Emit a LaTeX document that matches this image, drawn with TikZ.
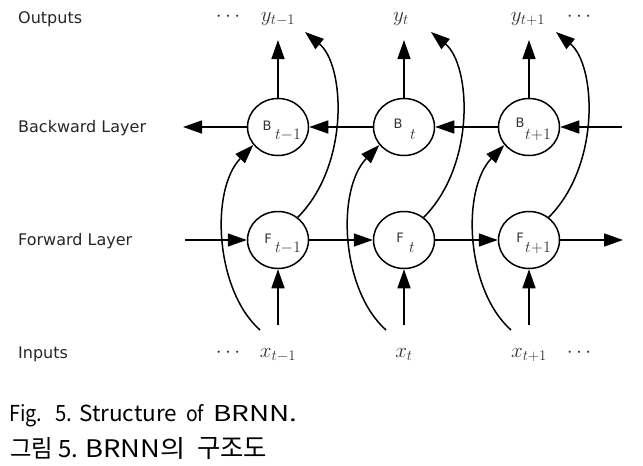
\RequirePackage{fix-cm}
\documentclass[tikz,border=0pt]{standalone}
\usepackage{fontspec}
\newfontfamily\dv{DejaVu Sans}
\newfontfamily\kr{Noto Sans CJK KR}
\usetikzlibrary{arrows.meta,shapes.geometric}
\newcommand{\cw}[4]{\makebox[#1][l]{\resizebox{#2}{#3}{#4}}}
\begin{document}
\begin{tikzpicture}[x=1pt,y=-1pt,
  arr/.style={line width=1.5pt,-{Triangle[length=19pt,width=13pt]}},
  unit/.style={ellipse,draw,line width=1.5pt,minimum width=61pt,minimum height=57pt,inner sep=0pt},
  lay/.style={font=\dv\fontsize{16}{19}\selectfont,anchor=base west,inner sep=0pt,text=black!85},
  ltr/.style={font=\dv\fontsize{13}{15}\selectfont,inner sep=0pt,text=black!80},
  sub/.style={font=\fontsize{16}{19}\selectfont,inner sep=0pt,text=black!80},
  io/.style={font=\fontsize{21}{25}\selectfont,anchor=base,inner sep=0pt,text=black!80},
  captxt/.style={font=\kr\fontsize{24}{29}\selectfont,anchor=base west,inner sep=0pt}]
\useasboundingbox (0,0) rectangle (643,466);

% layer labels
\node[lay] (lo) at (18,23) {Outputs};
\node[lay] (lb) at (18,132) {Backward Layer};
\node[lay] (lf) at (18,245) {Forward Layer};
\node[lay] (li) at (18,358) {Inputs};

% outputs / inputs
\node[io] (dy1) at (228,21) {$\cdots$};
\node[io] (y1) at (278,21) {$y_{t-1}$};
\node[io] (y2) at (401,21) {$y_{t}$};
\node[io] (y3) at (528,21) {$y_{t+1}$};
\node[io] (dy3) at (579,21) {$\cdots$};
\node[io] (dx1) at (228,357) {$\cdots$};
\node[io] (x1) at (278,357) {$x_{t-1}$};
\node[io] (x2) at (404,357) {$x_{t}$};
\node[io] (x3) at (529,357) {$x_{t+1}$};
\node[io] (dx3) at (579,357) {$\cdots$};

% units
\node[unit] (B1) at (278,127) {};
\node[unit] (B2) at (404,127) {};
\node[unit] (B3) at (529,127) {};
\node[unit] (F1) at (278,240) {};
\node[unit] (F2) at (404,240) {};
\node[unit] (F3) at (529,240) {};

\node[ltr] (tb1) at (267,126) {B};
\node[sub] (sb1) at (288,135) {$t{-}1$};
\node[ltr] (tb2) at (398,124) {B};
\node[sub] (sb2) at (413,135) {$t$};
\node[ltr] (tb3) at (520,123) {B};
\node[sub] (sb3) at (538,135) {$t{+}1$};
\node[ltr] (tf1) at (268,239) {F};
\node[sub] (sf1) at (288,248) {$t{-}1$};
\node[ltr] (tf2) at (400,238) {F};
\node[sub] (sf2) at (412,248) {$t$};
\node[ltr] (tf3) at (520,238) {F};
\node[sub] (sf3) at (538,248) {$t{+}1$};

% free ends
\coordinate (bR) at (622,127);
\coordinate (bL) at (183,127);
\coordinate (fL) at (185,240);
\coordinate (fR) at (623,240);
\foreach \i/\cx in {1/278,2/404,3/529}{
  \coordinate (o\i) at (\cx,40);
  \coordinate (in\i) at (\cx,325);
  \coordinate (ca\i) at (\cx-18,330);
  \coordinate (cb\i) at (\cx+27,32);
}

% horizontal connectors
\draw[arr] (bR) -- (B3);
\draw[arr] (B3) -- (B2);
\draw[arr] (B2) -- (B1);
\draw[arr] (B1) -- (bL);
\draw[arr] (fL) -- (F1);
\draw[arr] (F1) -- (F2);
\draw[arr] (F2) -- (F3);
\draw[arr] (F3) -- (fR);

% vertical connectors and curves
\foreach \i/\cx in {1/278,2/404,3/529}{
  \draw[arr] (B\i) -- (o\i);
  \draw[arr] (in\i) -- (F\i);
  \draw[arr] (ca\i) .. controls (\cx-63,290) and (\cx-68,190) .. (B\i.216);
  \draw[arr] (F\i.49) .. controls (\cx+72,165) and (\cx+67,65) .. (cb\i);
}

% caption
\node[captxt] (c1) at (9,421) {\makebox[46pt][l]{{\fontsize{22}{26}\selectfont\scalebox{0.9}[1]{Fig.}}}\cw{24pt}{17pt}{16pt}{5.}\cw{107pt}{98pt}{16.5pt}{Structure}\cw{27pt}{18pt}{17pt}{of}\resizebox{84pt}{16pt}{BRNN.}};
\node[captxt] (c2) at (10,457) {\cw{48pt}{43pt}{20pt}{그림}\cw{27pt}{20pt}{17pt}{5.}\cw{112pt}{100pt}{20pt}{BRNN의}\resizebox{70pt}{20pt}{구조도}};
\end{tikzpicture}
\end{document}
